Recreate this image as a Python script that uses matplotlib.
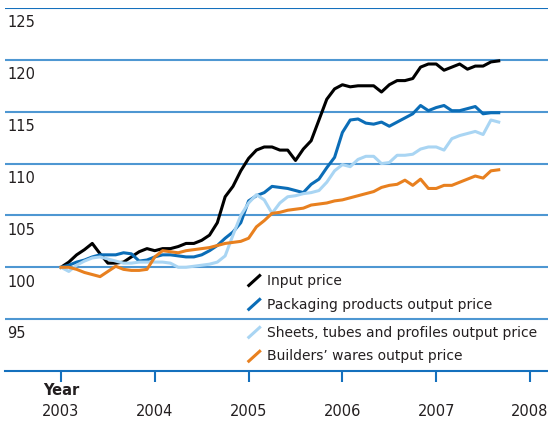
import numpy as np
import matplotlib
matplotlib.use('Agg')
import matplotlib.pyplot as plt

# ──────────────────────────────────────────────
# Data: monthly index, Jan 2003 = 100
# ──────────────────────────────────────────────
START_YEAR = 2003

input_price = [
    100.0, 100.5, 101.2, 101.7, 102.3, 101.3, 100.4, 100.4, 100.5, 101.0,
    101.5, 101.8, 101.6, 101.8, 101.8, 102.0, 102.3, 102.3, 102.6, 103.1,
    104.3, 106.8, 107.8, 109.3, 110.5, 111.3, 111.6, 111.6, 111.3, 111.3,
    110.3, 111.4, 112.2, 114.2, 116.2, 117.2, 117.6, 117.4, 117.5, 117.5,
    117.5, 116.9, 117.6, 118.0, 118.0, 118.2, 119.3, 119.6, 119.6, 119.0,
    119.3, 119.6, 119.1, 119.4, 119.4, 119.8, 119.9,
]
packaging = [
    100.0, 100.2, 100.5, 100.7, 101.0, 101.2, 101.2, 101.2, 101.4, 101.3,
    100.6, 100.7, 101.0, 101.2, 101.2, 101.1, 101.0, 101.0, 101.2, 101.6,
    102.1, 102.8, 103.4, 104.3, 106.4, 106.9, 107.2, 107.8, 107.7, 107.6,
    107.4, 107.2, 108.0, 108.5, 109.6, 110.6, 113.0, 114.2, 114.3, 113.9,
    113.8, 114.0, 113.6, 114.0, 114.4, 114.8, 115.6, 115.1, 115.4, 115.6,
    115.1, 115.1, 115.3, 115.5, 114.8, 114.9, 114.9,
]
sheets = [
    100.0, 99.6, 100.2, 100.6, 100.9, 101.0, 100.8, 100.6, 100.4, 100.4,
    100.5, 100.5, 100.5, 100.5, 100.4, 100.0, 100.0, 100.1, 100.2, 100.3,
    100.5, 101.1, 103.1, 105.0, 106.2, 107.0, 106.5, 105.2, 106.2, 106.8,
    106.9, 107.1, 107.2, 107.4, 108.2, 109.3, 109.9, 109.7, 110.4, 110.7,
    110.7, 110.0, 110.1, 110.8, 110.8, 110.9, 111.4, 111.6, 111.6, 111.3,
    112.4, 112.7, 112.9, 113.1, 112.8, 114.2, 114.0,
]
builders = [
    100.0, 100.0, 99.8, 99.5, 99.3, 99.1, 99.6, 100.1, 99.8, 99.7,
    99.7, 99.8, 101.0, 101.6, 101.5, 101.4, 101.6, 101.7, 101.8, 101.9,
    102.1, 102.3, 102.4, 102.5, 102.8, 103.9, 104.5, 105.2, 105.3, 105.5,
    105.6, 105.7, 106.0, 106.1, 106.2, 106.4, 106.5, 106.7, 106.9, 107.1,
    107.3, 107.7, 107.9, 108.0, 108.4, 107.9, 108.5, 107.6, 107.6, 107.9,
    107.9, 108.2, 108.5, 108.8, 108.6, 109.3, 109.4,
]

labels = [
    'Input price',
    'Packaging products output price',
    'Sheets, tubes and profiles output price',
    'Builders\u2019 wares output price',
]
colors = ['#000000', '#0b6db7', '#a9d5f3', '#e8801f']
series = [input_price, packaging, sheets, builders]

y_ticks = [95, 100, 105, 110, 115, 120, 125]
x_ticks = [2003, 2004, 2005, 2006, 2007, 2008]

FS = 10.5       # axis labels
FS_LEG = 10     # legend text
TEXT = '#231f20'
GRID = '#4e97d2'
AXIS = '#1470bd'

# ──────────────────────────────────────────────
# Figure
# ──────────────────────────────────────────────
fig = plt.figure(figsize=(5.48, 4.21), dpi=100)
ax = fig.add_axes([5 / 548, 50 / 421, 543 / 548, 363 / 421])

x = START_YEAR + np.arange(len(input_price)) / 12.0
for vals, c in zip(series, colors):
    ax.plot(x, vals, color=c, lw=2.2, solid_joinstyle='round', zorder=3)

ax.set_xlim(2003 - 56 / 93.8, 2003 + 487 / 93.8)
ax.set_ylim(90, 125)

for v in y_ticks:
    ax.axhline(v, color=AXIS if v == 125 else GRID, lw=1.5, zorder=1)
    ax.text(0.004, v - 0.7, str(v), transform=ax.get_yaxis_transform(),
            ha='left', va='top', fontsize=FS, color=TEXT)

for s in ['top', 'right', 'left']:
    ax.spines[s].set_visible(False)
ax.spines['bottom'].set_color(AXIS)
ax.spines['bottom'].set_linewidth(1.5)
ax.set_yticks([])
ax.set_xticks(x_ticks)
ax.set_xticklabels([str(t) for t in x_ticks], fontsize=FS, color=TEXT)
ax.tick_params(axis='x', direction='out', length=8, width=1.5, color=AXIS, pad=16)

ax.text(2003, 88.1, 'Year', ha='center', va='center', fontsize=FS,
        fontweight='bold', color=TEXT)

# legend with diagonal handles
leg_y = [98.7, 96.4, 93.7, 91.4]
for lab, c, ly in zip(labels, colors, leg_y):
    ax.plot([2005 - 0.01, 2005 + 0.13], [ly - 0.55, ly + 0.6], color=c, lw=2.2,
            solid_capstyle='butt', clip_on=False)
    ax.text(2005 + 0.2, ly, lab, ha='left', va='center', fontsize=FS_LEG, color=TEXT)

fig.savefig('out.png', dpi=100)
